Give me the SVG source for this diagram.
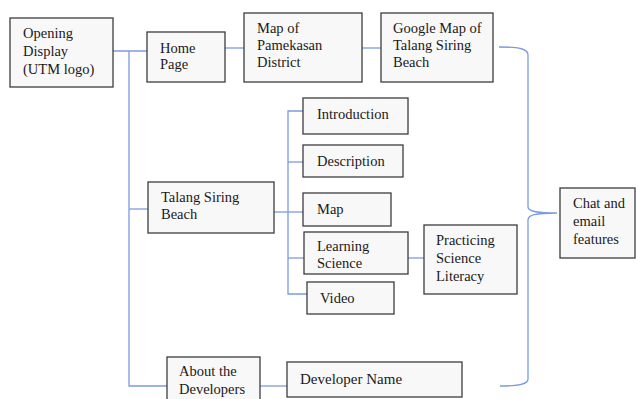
<svg xmlns="http://www.w3.org/2000/svg" width="636" height="399" viewBox="0 0 636 399">
<style>
.box{fill:#f8f8f8;stroke:#3c3c3c;stroke-width:1.3}
.t{font-family:"Liberation Serif","Times New Roman",serif;font-size:14.5px;fill:#1a1a1a}
.c{fill:none;stroke:#7b9be0;stroke-width:1.3}
</style>
<rect width="636" height="399" fill="#ffffff"/>
<g id="connectors">
<path class="c" d="M113,51 H147"/>
<path class="c" d="M129,51 V386 H167"/>
<path class="c" d="M129,209 H148"/>
<path class="c" d="M225,48 H244"/>
<path class="c" d="M362,48 H381"/>
<path class="c" d="M274,212 H303"/>
<path class="c" d="M303,111 H288 V294 H307"/>
<path class="c" d="M288,162 H303"/>
<path class="c" d="M288,258 H304"/>
<path class="c" d="M408,258 H424"/>
<path class="c" d="M260,386 H287"/>
<path class="c" d="M499,47 C520,47 528,49 528,55 L528,207 C528,211 535,213 557,213 C535,213 528,215 528,220 L528,379 C528,384 520,386 500,386"/>
</g>
<g id="opening">
<rect class="box" x="10" y="18" width="103" height="69"/>
<text class="t" x="23" y="38">Opening</text>
<text class="t" x="23" y="56">Display</text>
<text class="t" x="23" y="74">(UTM logo)</text>
</g>
<g id="home">
<rect class="box" x="147" y="32" width="78" height="50"/>
<text class="t" x="160" y="53">Home</text>
<text class="t" x="160" y="69">Page</text>
</g>
<g id="pamekasan">
<rect class="box" x="244" y="13" width="118" height="69"/>
<text class="t" x="257" y="33">Map of</text>
<text class="t" x="257" y="50">Pamekasan</text>
<text class="t" x="257" y="67">District</text>
</g>
<g id="googlemap">
<rect class="box" x="381" y="13" width="112" height="69"/>
<text class="t" x="393" y="33">Google Map of</text>
<text class="t" x="393" y="50">Talang Siring</text>
<text class="t" x="393" y="67">Beach</text>
</g>
<g id="talang">
<rect class="box" x="148" y="182" width="126" height="51"/>
<text class="t" x="161" y="202">Talang Siring</text>
<text class="t" x="161" y="219">Beach</text>
</g>
<g id="introduction">
<rect class="box" x="303" y="98" width="105" height="36"/>
<text class="t" x="317" y="119">Introduction</text>
</g>
<g id="description">
<rect class="box" x="303" y="145" width="100" height="32"/>
<text class="t" x="317" y="166">Description</text>
</g>
<g id="map">
<rect class="box" x="303" y="193" width="88" height="33"/>
<text class="t" x="317" y="214">Map</text>
</g>
<g id="learning">
<rect class="box" x="304" y="232" width="104" height="42"/>
<text class="t" x="317" y="251">Learning</text>
<text class="t" x="317" y="268">Science</text>
</g>
<g id="practicing">
<rect class="box" x="424" y="225" width="93" height="69"/>
<text class="t" x="436" y="245">Practicing</text>
<text class="t" x="436" y="263">Science</text>
<text class="t" x="436" y="281">Literacy</text>
</g>
<g id="video">
<rect class="box" x="307" y="282" width="87" height="32"/>
<text class="t" x="320" y="303">Video</text>
</g>
<g id="about">
<rect class="box" x="167" y="357" width="93" height="46"/>
<text class="t" x="179" y="376">About the</text>
<text class="t" x="179" y="394">Developers</text>
</g>
<g id="devname">
<rect class="box" x="287" y="362" width="175" height="35"/>
<text class="t" x="300" y="384" style="font-size:15px">Developer Name</text>
</g>
<g id="chat">
<rect class="box" x="560" y="188" width="75" height="70"/>
<text class="t" x="573" y="208">Chat and</text>
<text class="t" x="573" y="226">email</text>
<text class="t" x="573" y="244">features</text>
</g>
</svg>
